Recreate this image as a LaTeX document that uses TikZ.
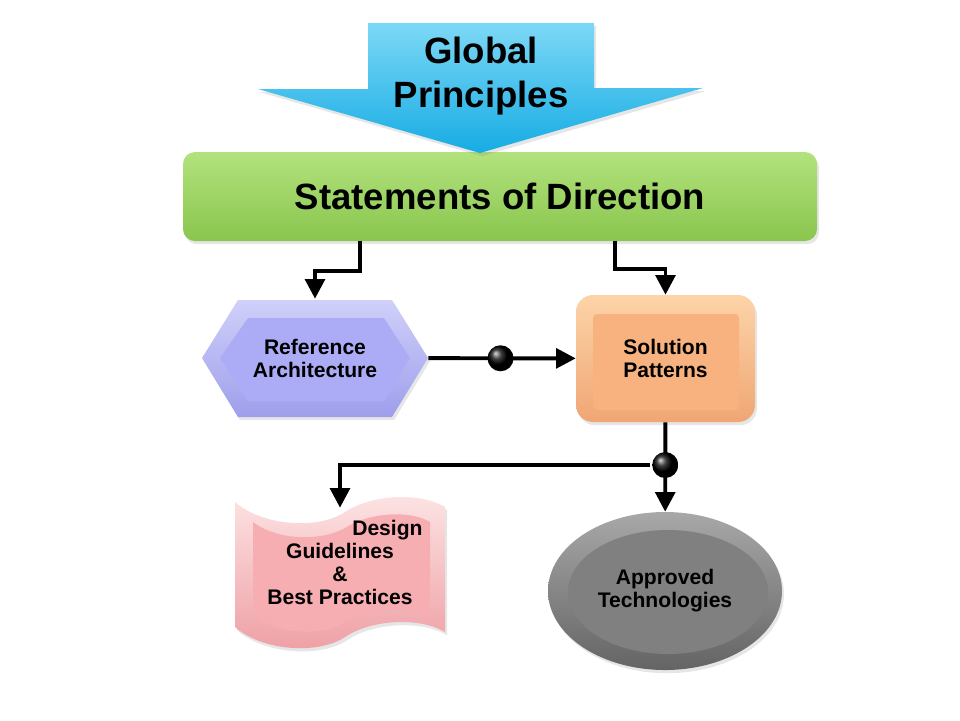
\documentclass[tikz,border=0pt]{standalone}
\usepackage{fontspec}
\setmainfont{Liberation Sans}
\usepackage{tikz}
\usetikzlibrary{arrows.meta,shapes.geometric,shadows}

\definecolor{gpTop}{RGB}{125,216,246}
\definecolor{gpBot}{RGB}{22,172,228}
\definecolor{sodTop}{RGB}{178,226,125}
\definecolor{sodBot}{RGB}{138,198,78}
\definecolor{raTop}{RGB}{208,208,250}
\definecolor{raBot}{RGB}{158,158,236}
\definecolor{raFace}{RGB}{172,172,246}
\definecolor{spTop}{RGB}{252,212,168}
\definecolor{spBot}{RGB}{240,166,116}
\definecolor{spFace}{RGB}{248,178,128}
\definecolor{dgTop}{RGB}{253,228,228}
\definecolor{dgBot}{RGB}{238,158,163}
\definecolor{dgFace}{RGB}{247,174,178}
\definecolor{atTop}{RGB}{168,168,168}
\definecolor{atBot}{RGB}{100,100,100}
\definecolor{atFace}{RGB}{128,128,128}

\begin{document}
\begin{tikzpicture}[
  x=0.25mm,y=-0.25mm,
  big/.style={font=\bfseries\fontsize{26}{31}\selectfont,align=center,inner sep=0pt},
  lbl/.style={font=\bfseries\fontsize{15}{16.4}\selectfont,align=center,inner sep=0pt},
  bev/.style 2 args={top color=#1,bottom color=#2,drop shadow={opacity=0.2,shadow xshift=0.5mm,shadow yshift=-0.8mm}},
  arr/.style={-{Triangle[length=14pt,width=14pt]},line width=2.8pt},
  dot/.style={circle,minimum size=6.5mm,inner sep=0pt,shading=ball,ball color=black}
]
\useasboundingbox (0,0) rectangle (960,720);

% shapes
\path[bev={sodTop}{sodBot},rounded corners=3mm] (183,152) rectangle (817,241);
\path[bev={gpTop}{gpBot}] (368,23) -- (594,23) -- (594,88) -- (703,88) -- (480,153) -- (258,89) -- (368,89) -- cycle;
\path[bev={raTop}{raBot}] (202,358) -- (238,300) -- (392,300) -- (428,358) -- (392,417) -- (238,417) -- cycle;
\fill[raFace] (220,358) -- (248,318) -- (384,318) -- (410,358) -- (384,401) -- (248,401) -- cycle;
\path[bev={spTop}{spBot},rounded corners=4.25mm] (576,295) rectangle (755,422);
\fill[spFace,rounded corners=1mm] (593,314) rectangle (739,410);
\path[bev={dgTop}{dgBot}] (235,502) .. controls (262,526) and (318,530) .. (345,512)
  .. controls (372,494) and (420,492) .. (445,507) -- (445,632)
  .. controls (420,617) and (372,619) .. (345,637)
  .. controls (318,655) and (262,651) .. (235,627) -- cycle;
\fill[dgFace] (253,522) .. controls (276,540) and (320,542) .. (345,528)
  .. controls (370,512) and (410,510) .. (430,522) -- (430,618)
  .. controls (410,606) and (370,607) .. (345,622)
  .. controls (320,637) and (276,635) .. (253,614) -- cycle;
\path[bev={atTop}{atBot}] (665,591) ellipse [x radius=29.25mm,y radius=19.75mm];
\fill[atFace] (668,592) ellipse [x radius=25mm,y radius=15.5mm];

% labels
\node[big] (gp) at (481,76) {Global\\Principles};
\node[big,minimum width=158.5mm,minimum height=22.25mm] (sod) at (500,196) {Statements of Direction};
\node[lbl,minimum width=56.5mm,minimum height=29.5mm] (ra) at (315,358) {Reference\\Architecture};
\node[lbl,minimum width=44.75mm,minimum height=31.75mm] (sp) at (665.5,358.5) {Solution\\Patterns};
\node[lbl,minimum width=52.5mm,minimum height=27.25mm] (dg) at (340,562.5) {\hspace*{4.5em}Design\\Guidelines\\\&\\Best Practices};
\node[lbl,ellipse,minimum width=58.5mm,minimum height=39.5mm] (at) at (665,591) {Approved\\Technologies};

% connectors
\draw[arr] ([xshift=-35mm]sod.south) -- ++(0,30) -| (ra.north);
\draw[arr] ([xshift=28.75mm]sod.south) -- ++(0,28) -| (sp.north);
\draw[arr] (ra) -- (sp) node[dot,pos=0.49] (d1) {};
\draw[arr] (sp) -- (at) node[dot,pos=0.478] (d2) {};
\draw[arr] (d2) -| (dg.north);
\end{tikzpicture}
\end{document}
